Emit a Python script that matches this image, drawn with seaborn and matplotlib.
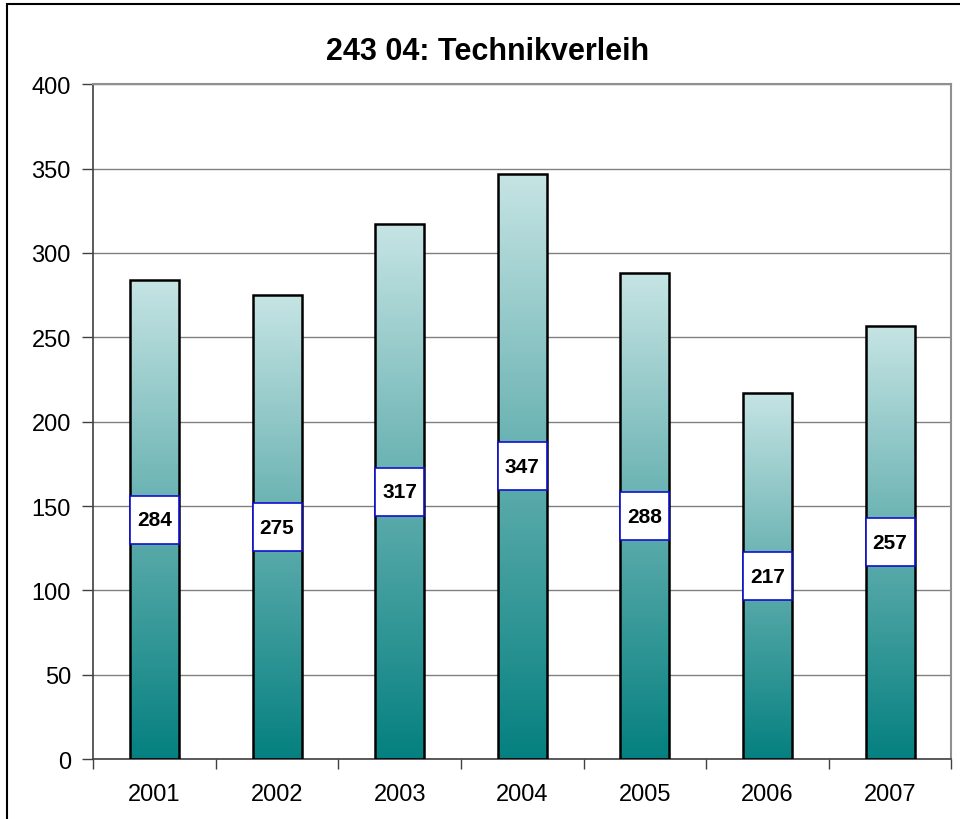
import numpy as np
import pandas as pd
import matplotlib
matplotlib.use("Agg")
import matplotlib.pyplot as plt
import seaborn as sns
from matplotlib.colors import LinearSegmentedColormap
from matplotlib.patches import Rectangle

# Daten
jahre = ["2001", "2002", "2003", "2004", "2005", "2006", "2007"]
werte = [284, 275, 317, 347, 288, 217, 257]
titel = "243 04: Technikverleih"

df = pd.DataFrame({"Jahr": jahre, "Wert": werte})

sns.set_style("white")
plt.rcParams['font.family'] = ['Liberation Sans', 'DejaVu Sans']
plt.rcParams['text.color'] = 'black'
plt.rcParams['xtick.color'] = 'black'
plt.rcParams['ytick.color'] = 'black'

fig = plt.figure(figsize=(9.6, 8.2), dpi=100)
ax = fig.add_axes([0.097, 0.073, 0.894, 0.823])

sns.barplot(data=df, x="Jahr", y="Wert", ax=ax, width=0.4,
            facecolor="none", edgecolor="black", linewidth=1.8, zorder=3)

ax.set_yticks(np.arange(0, 401, 50))
ax.yaxis.grid(True, color="#808080", linewidth=1, zorder=0)
ax.set_axisbelow(True)

# Farbverlauf in jedem Balken
cmap = LinearSegmentedColormap.from_list("teal", ["#058080", "#62aeae", "#c6e4e4"])
grad = np.linspace(0, 1, 256).reshape(-1, 1)
for bar, w in zip(ax.patches, werte):
    x0 = bar.get_x()
    bw = bar.get_width()
    h = bar.get_height()
    im = ax.imshow(grad, cmap=cmap, origin="lower", aspect="auto",
                   extent=[x0, x0 + bw, 0, h], zorder=2)
    im.set_clip_path(bar)
    # Beschriftung
    box_h = 28.5
    ax.add_patch(Rectangle((x0, h / 2 - box_h / 2), bw, box_h,
                           facecolor="white", edgecolor="#1010d0",
                           linewidth=1.2, zorder=4))
    ax.text(x0 + bw / 2, h / 2, str(w), ha="center", va="center",
            fontsize=15, fontweight="bold", zorder=5)
ax.set_xlim(-0.5, len(jahre) - 0.5)
ax.set_ylim(0, 400)

ax.set_xlabel("")
ax.set_ylabel("")
ax.tick_params(axis="y", labelsize=17, length=8, width=1, color="#404040",
               left=True, pad=8)
ax.tick_params(axis="x", labelsize=17, length=0, pad=17)
# Teilstriche zwischen den Kategorien
ax.set_xticks(np.arange(-0.5, len(jahre)), minor=True)
ax.tick_params(axis="x", which="minor", length=7, width=1, color="#404040", bottom=True)

for s in ["top", "right"]:
    ax.spines[s].set_color("#909090")
    ax.spines[s].set_linewidth(1.5)
for s in ["left", "bottom"]:
    ax.spines[s].set_color("#404040")
    ax.spines[s].set_linewidth(1.2)

fig.text(0.508, 0.937, titel, ha="center", va="center",
         fontsize=22, fontweight="bold")

# Rahmen um das Diagramm
fig.patches.append(Rectangle((0.007, -0.01), 1.0, 1.004, transform=fig.transFigure,
                             facecolor="none", edgecolor="black", linewidth=1.5))

fig.savefig("out.png", dpi=100)
